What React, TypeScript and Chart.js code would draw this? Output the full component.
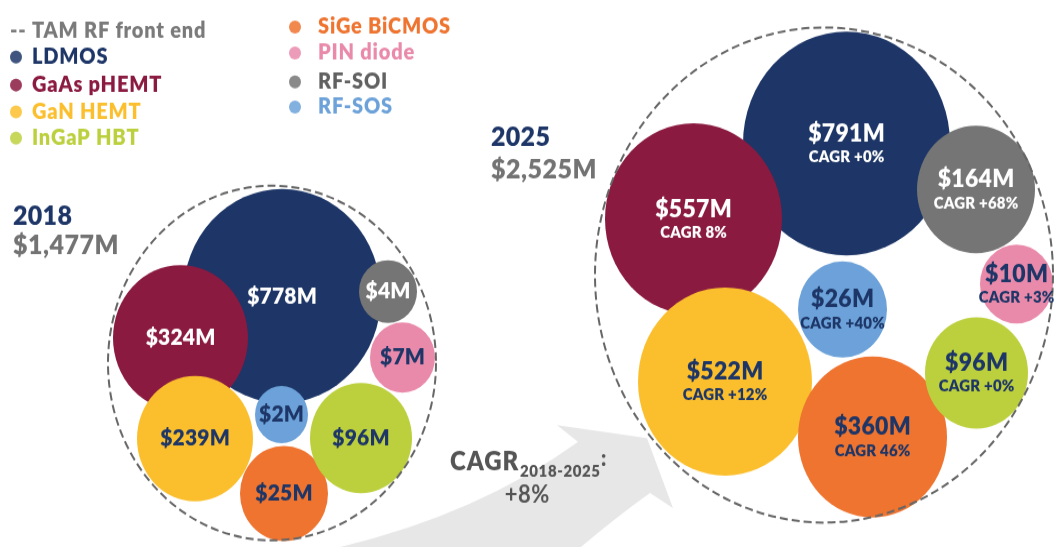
import React, { useEffect, useRef } from 'react';
import { Chart, registerables } from 'chart.js';

Chart.register(...registerables);

// ---------- data ----------
const SERIES = ['LDMOS', 'GaAs pHEMT', 'GaN HEMT', 'InGaP HBT', 'SiGe BiCMOS', 'PIN diode', 'RF-SOI', 'RF-SOS'];
const YEARS = ['2018', '2025'];
const TOTALS = ['$1,477M', '$2,525M'];
const VALUES_2018 = [778, 324, 239, 96, 25, 7, 4, 2];
const VALUES_2025 = [791, 557, 522, 96, 360, 10, 164, 26];
const CAGR_2025 = ['+0%', '8%', '+12%', '+0%', '46%', '+3%', '+68%', '+40%'];
const CAGR_TOTAL = '+8%';
const CAGR_PERIOD = '2018-2025';

// bubble layout (chart units)
const X_2018 = [282, 180.5, 195, 361, 284, 402.5, 388, 281.5];
const Y_2018 = [296, 338, 438.5, 438, 493.5, 357.5, 291.5, 414.6];
const R_2018 = [99, 67.5, 58, 51, 44, 32.5, 29, 26.5];
const X_2025 = [846.5, 693.5, 725, 976.5, 872.5, 1016.5, 976, 842.5];
const Y_2025 = [143.5, 219, 381.5, 373, 437, 284, 189.5, 309.5];
const R_2025 = [103.5, 88.5, 87, 51.5, 74.5, 36.5, 59, 44.5];
const Z_ORDER = [7, 6, 5, 2, 3, 0, 1, 4];

// enclosures (TAM) per year
const ENC_X = [272, 824];
const ENC_Y = [363, 275];
const ENC_R = [164, 229];

// ---------- style ----------
const W = 1056;
const H = 547;
const CANVAS_H = 506;
const NAVY = '#1d3667';
const COLORS = ['#1d3667', '#8b1a41', '#fbbf2e', '#bcd03d', '#ee7430', '#e98aab', '#757575', '#6ca2d9'];
const LEGEND_TEXT = ['#1d3667', '#8b1a41', '#fbbf2e', '#bcd03d', '#ee7430', '#e98aab', '#616161', '#6ca2d9'];
const LABEL_COLORS = ['#ffffff', '#ffffff', NAVY, NAVY, NAVY, NAVY, '#ffffff', NAVY];
const FONT = 'Lato, "Open Sans", sans-serif';

const fmt = (v: number) => `$${v}M`;

function drawText(
  ctx: CanvasRenderingContext2D,
  s: string,
  x: number,
  y: number,
  font: string,
  color: string,
  align: CanvasTextAlign = 'left',
  spacing = 0
) {
  ctx.font = font;
  ctx.fillStyle = color;
  ctx.textAlign = align;
  ctx.textBaseline = 'middle';
  (ctx as any).letterSpacing = `${spacing}px`;
  let dx = 0;
  if (align === 'center' && spacing) dx = spacing / 2;
  ctx.fillText(s, x + dx, y);
  (ctx as any).letterSpacing = '0px';
}

const decorPlugin = {
  id: 'decor',
  beforeDatasetsDraw(chart: any) {
    const { ctx } = chart;
    const xs = chart.scales.x;
    const ys = chart.scales.y;
    const X = (v: number) => xs.getPixelForValue(v);
    const Y = (v: number) => ys.getPixelForValue(v);
    // growth arrow
    ctx.save();
    ctx.fillStyle = '#e7e7e7';
    ctx.beginPath();
    ctx.moveTo(X(318), Y(552));
    ctx.quadraticCurveTo(X(470), Y(520), X(578), Y(442));
    ctx.lineTo(X(557), Y(425));
    ctx.lineTo(X(647), Y(438));
    ctx.lineTo(X(673), Y(508));
    ctx.lineTo(X(650), Y(493));
    ctx.quadraticCurveTo(X(615), Y(518), X(575), Y(552));
    ctx.closePath();
    ctx.fill();
    ctx.restore();
  },
  afterDatasetsDraw(chart: any) {
    const { ctx } = chart;
    const xs = chart.scales.x;
    const ys = chart.scales.y;
    const X = (v: number) => xs.getPixelForValue(v);
    const Y = (v: number) => ys.getPixelForValue(v);
    ctx.save();

    // dashed TAM enclosures
    ctx.strokeStyle = '#666666';
    ctx.lineWidth = 2;
    ctx.setLineDash([8, 4]);
    for (let i = 0; i < ENC_X.length; i++) {
      ctx.beginPath();
      ctx.arc(X(ENC_X[i]), Y(ENC_Y[i]), ENC_R[i], 0, Math.PI * 2);
      ctx.stroke();
    }
    ctx.setLineDash([]);

    // bubble labels
    chart.data.datasets.forEach((ds: any, di: number) => {
      const meta = chart.getDatasetMeta(di);
      meta.data.forEach((el: any, pi: number) => {
        const color = LABEL_COLORS[di];
        if (pi === 0) {
          drawText(ctx, fmt(VALUES_2018[di]), el.x, el.y, `800 21px ${FONT}`, color, 'center', 0.2);
        } else {
          const yv = ys.getValueForPixel(el.y);
          drawText(ctx, fmt(VALUES_2025[di]), el.x, Y(yv - 10), `800 23px ${FONT}`, color, 'center', 0.3);
          drawText(ctx, `CAGR ${CAGR_2025[di]}`, el.x, Y(yv + 13.5), `800 15px ${FONT}`, color, 'center', 0.2);
        }
      });
    });

    // legend
    drawText(ctx, '-- TAM RF front end', X(10), Y(31), `800 20px ${FONT}`, '#7a7a7a', 'left', 0.8);
    const legendPos = [
      [16, 32, 57], [16, 32, 85], [16, 32, 112], [16, 32, 138],
      [295, 318, 27], [295, 318, 53], [295, 318, 82], [295, 318, 107],
    ];
    SERIES.forEach((name, i) => {
      const [dx, tx, ty] = legendPos[i];
      ctx.fillStyle = COLORS[i];
      ctx.globalAlpha = 0.85;
      ctx.beginPath();
      ctx.arc(X(dx), Y(ty), 6, 0, Math.PI * 2);
      ctx.fill();
      ctx.globalAlpha = 1;
      drawText(ctx, name, X(tx), Y(ty), `800 20px ${FONT}`, LEGEND_TEXT[i], 'left', 0.8);
    });

    // year titles
    drawText(ctx, YEARS[0], X(13), Y(216), `800 25px ${FONT}`, NAVY, 'left', 0.3);
    drawText(ctx, TOTALS[0], X(13), Y(245), `800 25px ${FONT}`, '#737373', 'left', 0.5);
    drawText(ctx, YEARS[1], X(491), Y(137), `800 25px ${FONT}`, NAVY, 'left', 0.3);
    drawText(ctx, TOTALS[1], X(491), Y(170), `800 25px ${FONT}`, '#737373', 'left', 0.5);

    // overall CAGR
    drawText(ctx, 'CAGR', X(450), Y(462), `800 24px ${FONT}`, '#555555', 'left', 1);
    drawText(ctx, CAGR_PERIOD, X(520), Y(472), `800 15px ${FONT}`, '#555555', 'left', 0.6);
    drawText(ctx, ':', X(601), Y(459), `800 20px ${FONT}`, '#555555', 'left', 0);
    drawText(ctx, CAGR_TOTAL, X(527), Y(495), `700 22px ${FONT}`, '#555555', 'center', 0.5);

    ctx.restore();
  },
};

export default function App() {
  const ref = useRef<HTMLCanvasElement>(null);
  useEffect(() => {
    const datasets = SERIES.map((name, i) => ({
      label: name,
      data: [
        { x: X_2018[i], y: Y_2018[i], r: R_2018[i] },
        { x: X_2025[i], y: Y_2025[i], r: R_2025[i] },
      ],
      backgroundColor: COLORS[i],
      borderWidth: 0,
      hoverBorderWidth: 0,
      clip: false,
      order: Z_ORDER[i],
    }));
    const chart = new Chart(ref.current as HTMLCanvasElement, {
      type: 'bubble',
      data: { datasets },
      options: {
        responsive: false,
        animation: false,
        devicePixelRatio: 1,
        events: [],
        layout: { padding: 0, autoPadding: false },
        plugins: { legend: { display: false }, tooltip: { enabled: false }, title: { display: false } },
        scales: {
          x: { type: 'linear', display: false, min: 0, max: W },
          y: { type: 'linear', display: false, min: 0, max: H, reverse: true },
        },
      } as any,
      plugins: [decorPlugin],
    });
    return () => chart.destroy();
  }, []);
  return (
    <div style={{ position: 'absolute', left: 0, top: 0, width: W, height: H, background: '#ffffff' }}>
      <canvas ref={ref} width={W} height={CANVAS_H} style={{ width: W, height: H, display: 'block' }} />
    </div>
  );
}
